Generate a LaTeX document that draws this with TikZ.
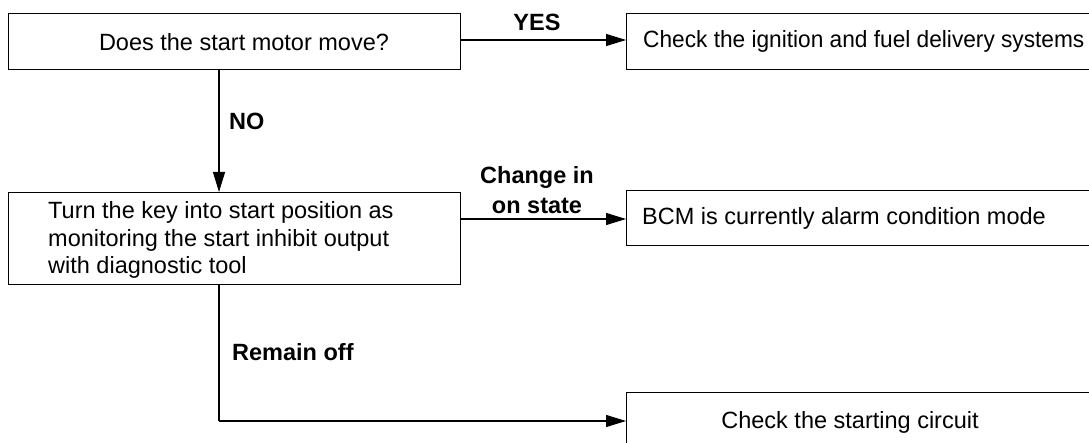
\documentclass[tikz,border=0pt]{standalone}
\usepackage{fontspec}
\setmainfont{Liberation Sans}
\newfontfamily\narrowfont[FakeStretch=0.965]{Liberation Sans}
\usetikzlibrary{arrows.meta}
\begin{document}
\begin{tikzpicture}[x=1pt,y=-1pt,
  boxshape/.style={draw=black,line width=1.3pt,rectangle,inner sep=0pt,anchor=north west},
  boxtext/.style={inner sep=0pt,font=\fontsize{23.5}{27.5}\selectfont},
  lbl/.style={inner sep=0pt,font=\fontsize{23.5}{30}\selectfont\bfseries},
  conn/.style={line width=1.3pt,-{Triangle[length=20pt,width=12pt]}},
  plain/.style={line width=1.3pt}]
\useasboundingbox (0,0) rectangle (1089,443);
\clip (0,0) rectangle (1089,443);
% boxes
\node[boxshape,minimum width=452pt,minimum height=56pt] (b1) at (8,13) {};
\node[boxshape,minimum width=480pt,minimum height=56pt] (b2) at (626,13) {};
\node[boxshape,minimum width=452pt,minimum height=92pt] (b3) at (8,192) {};
\node[boxshape,minimum width=480pt,minimum height=55pt] (b4) at (626,190) {};
\node[boxshape,minimum width=480pt,minimum height=70pt] (b5) at (626,392) {};
% texts
\node[boxtext] (t1) at (244,42) {Does the start motor move?};
\node[boxtext,anchor=west,font=\fontsize{23.5}{27.5}\narrowfont] (t2) at (643,41) {Check the ignition and fuel delivery systems};
\node[boxtext,anchor=west,align=left] (t3) at (48,240) {Turn the key into start position as\\monitoring the start inhibit output\\with diagnostic tool};
\node[boxtext,anchor=west] (t4) at (642,218) {BCM is currently alarm condition mode};
\node[boxtext] (t5) at (850,422) {Check the starting circuit};
% connectors
\coordinate (p1) at (460,40);
\coordinate (p2) at (219,69);
\coordinate (p3) at (460,219);
\coordinate (p4) at (219,284);
\coordinate (p5) at (219,421);
\draw[conn] (p1) -- (b2.west |- p1);
\draw[conn] (p2) -- (b3.north -| p2);
\draw[conn] (p3) -- (b4.west |- p3);
\draw[plain] (p4) -- (p5);
\draw[conn] (p5) -- (b5.west |- p5);
% labels
\node[lbl] (lyes) at (537,22) {YES};
\node[lbl,anchor=west] (lno) at (229,121) {NO};
\node[lbl,align=center] (lchg) at (537,190) {Change in\\on state};
\node[lbl,anchor=west] (lrem) at (232,352) {Remain off};
\end{tikzpicture}
\end{document}
